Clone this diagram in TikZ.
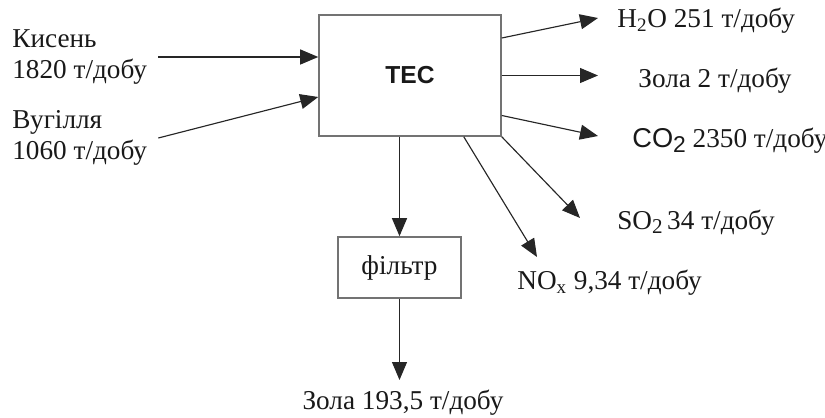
\documentclass[tikz,border=0pt]{standalone}
\usepackage{fontspec}
\setmainfont{Liberation Serif}
\setsansfont{Liberation Sans}
\usetikzlibrary{arrows.meta}

\tikzset{
  lbl/.style={inner sep=0pt, font=\fontsize{15.5}{17.5}\selectfont, text=black!90},
  blok/.style={draw=black!55, line width=0.9pt, inner sep=0pt},
  potik/.style={-{Triangle[length=0.36cm,width=0.3cm]}, line width=0.65pt, draw=black!85},
}

\begin{document}
\begin{tikzpicture}[x=0.02cm, y=-0.02cm]
\useasboundingbox (0,0) rectangle (825,418);

% Boxes
\node[blok, minimum width=3.64cm, minimum height=2.42cm, text=black!90, font=\sffamily\bfseries\fontsize{14}{16}\selectfont] (tes) at (410,75.5) {ТЕС};
\node[lbl, blok, minimum width=2.46cm, minimum height=1.22cm] (filtr) at (399.5,267.5) {фільтр};

% Inputs
\node[lbl, anchor=west, align=left] (kysen) at (12,57) {Кисень\\1820 т/добу};
\node[lbl, anchor=west, align=left] (vuhillia) at (12,138) {Вугілля\\1060 т/добу};

% Outputs
\node[lbl, anchor=base west] (h2o) at (617,28) {H\textsubscript{2}O 251 т/добу};
\node[lbl, anchor=base west] (zola) at (638,88) {Зола 2 т/добу};
\node[lbl, anchor=base west] (co2) at (632,148) {{\sffamily CO\raisebox{-0.3ex}{\fontsize{13}{13}\selectfont 2}} 2350 т/добу};
\node[lbl, anchor=base west] (so2) at (617,230) {SO\raisebox{-0.3ex}{\fontsize{12}{12}\selectfont 2}\,34 т/добу};
\node[lbl, anchor=base west] (nox) at (517,290) {NO\textsubscript{x} 9,34 т/добу};
\node[lbl, anchor=base] (zolaf) at (403,410) {Зола 193,5 т/добу};

% Arrow tips
\coordinate (h2o-tip) at (598,18);
\coordinate (co2-tip) at (598,136);
\coordinate (so2-tip) at (580,218);
\coordinate (nox-tip) at (537,257);
\coordinate (zolaf-tip) at (399.5,380);

% Flows
\draw[potik] ([xshift=0.22cm]kysen.east) -- (kysen.east -| tes.west);
\draw[potik] ([xshift=0.22cm]vuhillia.east) -- ([yshift=-0.43cm]tes.west);
\draw[potik] ([yshift=0.75cm]tes.east) -- (h2o-tip);
\draw[potik] (tes.east) -- (tes.east -| h2o-tip);
\draw[potik] ([yshift=-0.8cm]tes.east) -- (co2-tip);
\draw[potik] (tes.south east) -- (so2-tip);
\draw[potik] ([xshift=-0.76cm]tes.south east) -- (nox-tip);
\draw[potik] (filtr.north |- tes.south) -- (filtr.north);
\draw[potik] (filtr.south) -- (zolaf-tip);
\end{tikzpicture}
\end{document}
